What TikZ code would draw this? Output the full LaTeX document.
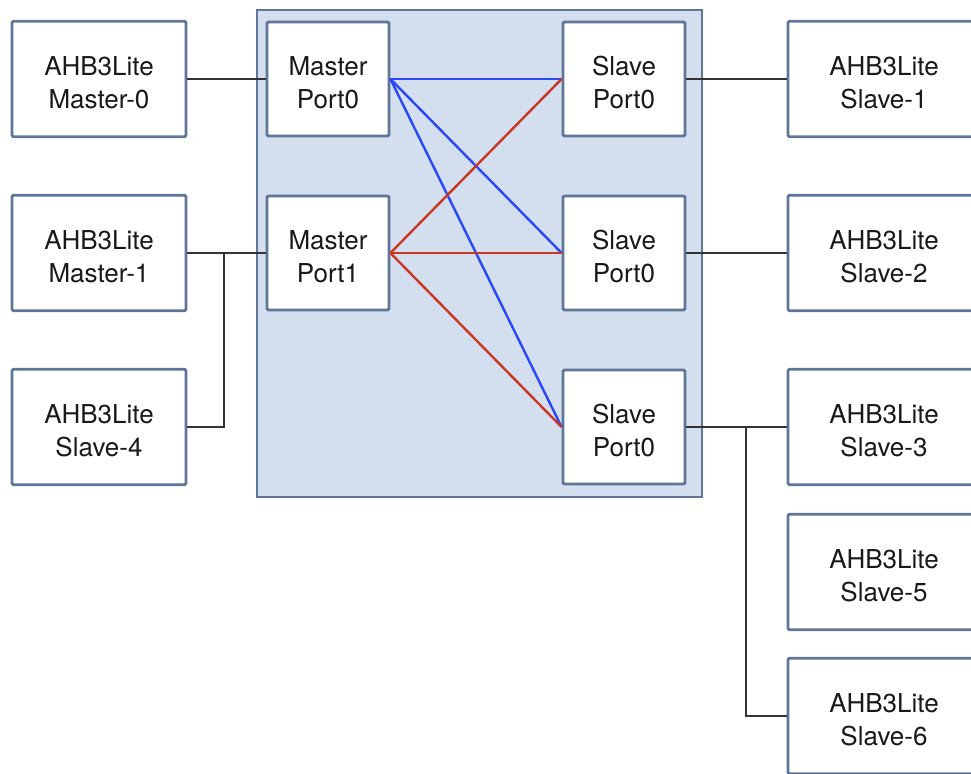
\documentclass[tikz,border=0pt]{standalone}
\usepackage{fontspec}
\setmainfont{TeX Gyre Heros}
\usepackage{tikz}
\usetikzlibrary{positioning}
\definecolor{boxedge}{RGB}{94,118,152}
\definecolor{fabric}{RGB}{211,222,238}
\definecolor{wireblue}{RGB}{40,72,250}
\definecolor{wirered}{RGB}{200,56,36}
\def\boxfont{\fontsize{19.5}{24.75}\selectfont}
\def\twolines#1#2{\rule{0pt}{20pt}#1\\#2}

\begin{document}
\begin{tikzpicture}[x=0.75pt,y=-0.75pt,line width=1.8pt]
    \tikzstyle{block}=[draw=boxedge,line width=2.1pt,fill=white,align=center,
        font=\boxfont,text=black!90,inner sep=0pt,rounded corners=1pt]
    \tikzstyle{ahb}=[block,minimum width=130.5pt,minimum height=86.5pt]
    \tikzstyle{port}=[block,minimum width=91.5pt,minimum height=85.5pt]
    \tikzstyle{wire}=[draw=black!80]

    \useasboundingbox (0,0) rectangle (971,774);

    % Draw the interconnect fabric
    \draw[draw=boxedge,fill=fabric,line width=2.1pt] (257,10) rectangle (702,497);

    % Masters and the slave on the left
    \node[ahb] (M-0) at (99,79) {\twolines{AHB3Lite}{Master-0}};
    \node[ahb] (M-1) at (99,253) {\twolines{AHB3Lite}{Master-1}};
    \node[ahb] (S-4) at (99,427) {\twolines{AHB3Lite}{Slave-4}};

    % Ports inside the fabric
    \foreach \name / \y in {0/79,1/253}
        \node[port] (MP-\name) at (328,\y) {\twolines{Master}{Port\name}};
    \foreach \name / \y in {1/79,2/253,3/427}
        \node[port] (SP-\name) at (624,\y) {\twolines{Slave}{Port0}};

    % Slaves on the right
    \foreach \name / \y in {1/79,2/253,3/427,5/572,6/716}
        \node[ahb,minimum width=144pt] (S-\name) at (884,\y) {\twolines{AHB3Lite}{Slave-\name}};

    % Connect every master port with every slave port
    \foreach \dest in {1,2,3}
        \draw[draw=wireblue] (MP-0.east) -- (SP-\dest.west);
    \foreach \dest in {1,2,3}
        \draw[draw=wirered] (MP-1.east) -- (SP-\dest.west);

    % Bus wires outside the fabric
    \coordinate (J1) at (224,253);
    \coordinate (J2) at (746,427);
    \draw[wire] (M-0.east) -- (MP-0.west);
    \draw[wire] (M-1.east) -- (MP-1.west);
    \draw[wire] (S-4.east) -| (J1);
    \foreach \name in {1,2,3}
        \draw[wire] (SP-\name.east) -- (S-\name.west);
    \draw[wire] (S-6.west) -| (J2);
\end{tikzpicture}
\end{document}
